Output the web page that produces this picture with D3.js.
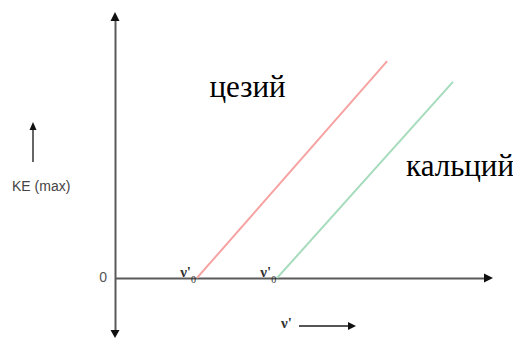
<!DOCTYPE html>
<html>
<head>
<meta charset="utf-8">
<script src="https://cdn.jsdelivr.net/npm/d3@7"></script>
<style>
  body { margin: 0; background: #fff; }
</style>
</head>
<body>
<div id="plot"></div>
<script>
// metals and their photoelectric lines (frequency in arbitrary units, KE in arbitrary units)
var metals = ["цезий", "кальций"];
var thresholdFreq = [2.17, 4.29];
var endFreq = [7.2, 8.94];
var endKE = [5.74, 5.19];

var xLabel = "ν";
var yLabel = "KE (max)";
var zeroLabel = "0";

var width = 513,
    height = 340;

var svg = d3.select("#plot")
  .append("svg")
    .attr("width", width)
    .attr("height", height);

// scales
var x = d3.scaleLinear()
    .domain([0, 10])
    .range([115, 493]);

var y = d3.scaleLinear()
    .domain([-1.59, 7.04])
    .range([338, 12]);

var color = d3.scaleOrdinal()
    .domain(metals)
    .range(["#f6a2a2", "#a6dcbc"]);

var axisColor = "#5a5a5a";

// X axis (no ticks, just the line)
var xAxis = svg.append("g")
    .attr("transform", "translate(0," + y(0) + ")")
    .call(d3.axisBottom(x.copy().range([115, 486])).tickValues([]).tickSizeOuter(0));
xAxis.select(".domain").attr("stroke", axisColor).attr("stroke-width", 2);

// Y axis
var yAxis = svg.append("g")
    .attr("transform", "translate(" + x(0) + ",0)")
    .call(d3.axisLeft(y.copy().range([331, 19])).tickValues([]).tickSizeOuter(0));
yAxis.select(".domain").attr("stroke", axisColor).attr("stroke-width", 2);

// arrow heads
function triangle(tx, ty, dir, len, half) {
    // dir: "up", "down", "right"
    var p;
    if (dir === "up") p = [[tx, ty], [tx - half, ty + len], [tx + half, ty + len]];
    else if (dir === "down") p = [[tx, ty], [tx - half, ty - len], [tx + half, ty - len]];
    else p = [[tx, ty], [tx - len, ty - half], [tx - len, ty + half]];
    svg.append("path")
        .attr("d", d3.line()(p) + "Z")
        .attr("fill", "#111");
}
triangle(x(0), y.range()[1], "up", 9, 4.5);
triangle(x(0), y.range()[0], "down", 8, 4.5);
triangle(x.range()[1], y(0), "right", 9, 4.5);

// lines for each metal
var lines = metals.map(function(m, i) {
    return { name: m, pts: [[thresholdFreq[i], 0], [endFreq[i], endKE[i]]] };
});

var line = d3.line()
    .x(function(d) { return x(d[0]); })
    .y(function(d) { return y(d[1]); });

svg.selectAll(".metal")
  .data(lines)
  .enter()
  .append("path")
    .attr("class", "metal")
    .attr("d", function(d) { return line(d.pts); })
    .attr("fill", "none")
    .attr("stroke", function(d) { return color(d.name); })
    .attr("stroke-width", 2);

// threshold labels v0
var thr = svg.selectAll(".thr")
  .data(thresholdFreq)
  .enter()
  .append("text")
    .attr("class", "thr")
    .attr("x", function(d) { return x(d) - 1; })
    .attr("y", y(0) - 1)
    .attr("text-anchor", "end")
    .attr("font-family", "Liberation Serif, serif")
    .attr("font-size", "15px")
    .attr("font-weight", "bold")
    .attr("fill", "#333");
thr.append("tspan").text(xLabel + "'");
thr.append("tspan").attr("dy", 6).attr("font-size", "10px").attr("font-weight", "normal").text("0");

// metal names
var namePos = [[2.5, 4.8], [7.7, 2.7]];
svg.selectAll(".name")
  .data(metals)
  .enter()
  .append("text")
    .attr("class", "name")
    .attr("x", function(d, i) { return x(namePos[i][0]); })
    .attr("y", function(d, i) { return y(namePos[i][1]); })
    .attr("font-family", "Liberation Serif, serif")
    .attr("font-size", "31px")
    .attr("fill", "#000")
    .text(function(d) { return d; });

// zero label
svg.append("text")
    .attr("x", x(0) - 8)
    .attr("y", y(0) + 4)
    .attr("text-anchor", "end")
    .attr("font-family", "Liberation Sans, sans-serif")
    .attr("font-size", "14px")
    .attr("fill", "#555")
    .text(zeroLabel);

// KE (max) label with arrow
svg.append("text")
    .attr("x", 12)
    .attr("y", 191)
    .attr("font-family", "Liberation Sans, sans-serif")
    .attr("font-size", "14px")
    .attr("fill", "#444")
    .text(yLabel);
svg.append("line")
    .attr("x1", 33).attr("x2", 33)
    .attr("y1", 162).attr("y2", 129)
    .attr("stroke", "#333").attr("stroke-width", 1.5);
triangle(33, 122, "up", 8, 3.5);

// nu label with arrow
svg.append("text")
    .attr("x", 281)
    .attr("y", 328)
    .attr("font-family", "Liberation Serif, serif")
    .attr("font-size", "15px")
    .attr("font-weight", "bold")
    .attr("fill", "#333")
    .text(xLabel + "'");
svg.append("line")
    .attr("x1", 299).attr("x2", 349)
    .attr("y1", 326).attr("y2", 326)
    .attr("stroke", "#555").attr("stroke-width", 2);
triangle(356, 326, "right", 8, 4);
</script>
</body>
</html>
